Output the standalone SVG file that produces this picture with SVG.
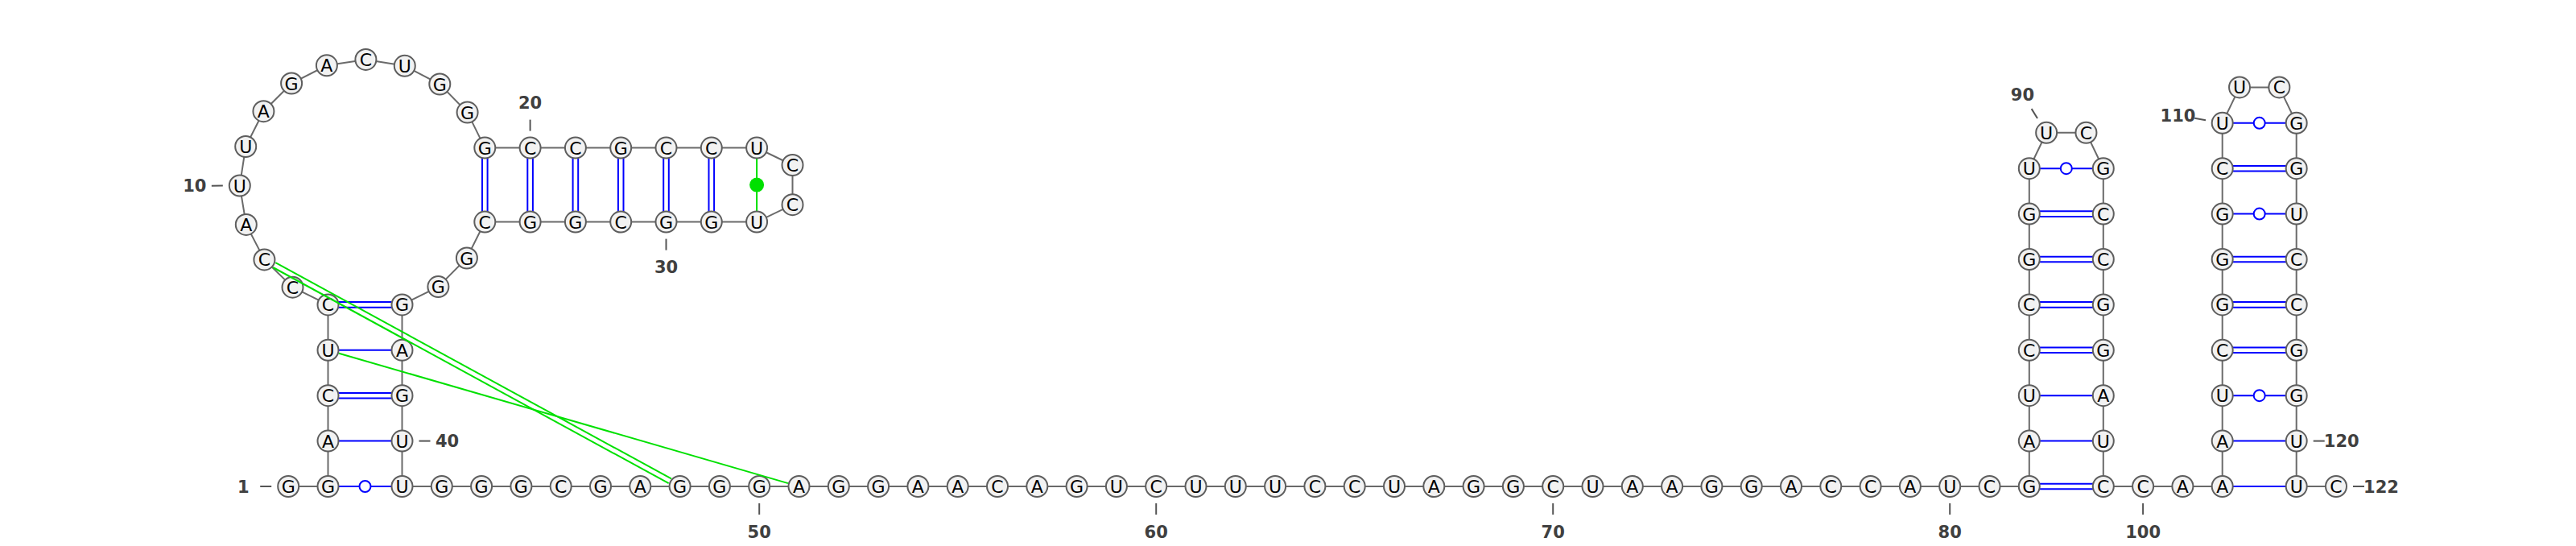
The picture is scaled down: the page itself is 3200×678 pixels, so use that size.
<svg xmlns="http://www.w3.org/2000/svg" width="3200" height="678" viewBox="0 0 3200 678">
<style>
.bb{fill:none;stroke:#6a6a6a;stroke-width:2}
.bp{stroke:#0000ff;stroke-width:2;fill:none}
.wb{fill:#fff;stroke:#0000ff;stroke-width:2}
.tp{stroke:#00e000;stroke-width:2;fill:none}
.nt circle{fill:#f2f2f2;stroke:#5e5e5e;stroke-width:2}
.nt text{font-family:"DejaVu Sans",sans-serif;font-size:22px;text-anchor:middle;fill:#000}
.tk{stroke:#555;stroke-width:2}
.lb{font-family:"DejaVu Sans",sans-serif;font-size:21px;font-weight:bold;text-anchor:middle;fill:#404040}
</style>
<rect width="3200" height="678" fill="#fff"/>
<g id="connectors">
<polyline class="bb" points="358.2,604 407.5,604 407.5,547.6 407.5,491.2 407.5,434.8 407.5,378.4 363.5,356.7 328.4,322.4 305.8,278.9 297.8,230.5 305.2,182 327.4,138.2 362.1,103.5 405.9,81.3 454.4,73.9 502.8,81.8 546.3,104.5 580.6,139.6 602.3,183.6 658.6,183.6 714.9,183.6 771.2,183.6 827.5,183.6 883.8,183.6 940.1,183.6 984.5,205 984.5,254.2 940.1,275.6 883.8,275.6 827.5,275.6 771.2,275.6 714.9,275.6 658.6,275.6 602.3,275.6 579.9,320.5 544.4,356.1 499.5,378.4 499.5,434.8 499.5,491.2 499.5,547.6 499.5,604 2520.8,604 2520.8,209.2 2542.15,164.8 2591.45,164.8 2612.8,209.2 2612.8,604 2760.7,604 2760.7,152.8 2782.05,108.4 2831.35,108.4 2852.7,152.8 2852.7,604 2902,604"/>
<!-- left stem -->
<line class="bp" x1="407.5" y1="604" x2="499.5" y2="604"/>
<line class="bp" x1="407.5" y1="547.6" x2="499.5" y2="547.6"/>
<line class="bp" x1="407.5" y1="487.9" x2="499.5" y2="487.9"/><line class="bp" x1="407.5" y1="494.5" x2="499.5" y2="494.5"/>
<line class="bp" x1="407.5" y1="434.8" x2="499.5" y2="434.8"/>
<line class="bp" x1="407.5" y1="375.1" x2="499.5" y2="375.1"/><line class="bp" x1="407.5" y1="381.7" x2="499.5" y2="381.7"/>
<!-- hairpin -->
<line class="bp" x1="599" y1="183.6" x2="599" y2="275.6"/><line class="bp" x1="605.6" y1="183.6" x2="605.6" y2="275.6"/>
<line class="bp" x1="655.3" y1="183.6" x2="655.3" y2="275.6"/><line class="bp" x1="661.9" y1="183.6" x2="661.9" y2="275.6"/>
<line class="bp" x1="711.6" y1="183.6" x2="711.6" y2="275.6"/><line class="bp" x1="718.2" y1="183.6" x2="718.2" y2="275.6"/>
<line class="bp" x1="767.9" y1="183.6" x2="767.9" y2="275.6"/><line class="bp" x1="774.5" y1="183.6" x2="774.5" y2="275.6"/>
<line class="bp" x1="824.2" y1="183.6" x2="824.2" y2="275.6"/><line class="bp" x1="830.8" y1="183.6" x2="830.8" y2="275.6"/>
<line class="bp" x1="880.5" y1="183.6" x2="880.5" y2="275.6"/><line class="bp" x1="887.1" y1="183.6" x2="887.1" y2="275.6"/>
<line class="tp" x1="940.1" y1="183.6" x2="940.1" y2="275.6"/>
<!-- stem 1 -->
<line class="bp" x1="2520.8" y1="600.7" x2="2612.8" y2="600.7"/><line class="bp" x1="2520.8" y1="607.3" x2="2612.8" y2="607.3"/>
<line class="bp" x1="2520.8" y1="547.6" x2="2612.8" y2="547.6"/>
<line class="bp" x1="2520.8" y1="491.2" x2="2612.8" y2="491.2"/>
<line class="bp" x1="2520.8" y1="431.5" x2="2612.8" y2="431.5"/><line class="bp" x1="2520.8" y1="438.1" x2="2612.8" y2="438.1"/>
<line class="bp" x1="2520.8" y1="375.1" x2="2612.8" y2="375.1"/><line class="bp" x1="2520.8" y1="381.7" x2="2612.8" y2="381.7"/>
<line class="bp" x1="2520.8" y1="318.7" x2="2612.8" y2="318.7"/><line class="bp" x1="2520.8" y1="325.3" x2="2612.8" y2="325.3"/>
<line class="bp" x1="2520.8" y1="262.3" x2="2612.8" y2="262.3"/><line class="bp" x1="2520.8" y1="268.9" x2="2612.8" y2="268.9"/>
<line class="bp" x1="2520.8" y1="209.2" x2="2612.8" y2="209.2"/>
<!-- stem 2 -->
<line class="bp" x1="2760.7" y1="604" x2="2852.7" y2="604"/>
<line class="bp" x1="2760.7" y1="547.6" x2="2852.7" y2="547.6"/>
<line class="bp" x1="2760.7" y1="491.2" x2="2852.7" y2="491.2"/>
<line class="bp" x1="2760.7" y1="431.5" x2="2852.7" y2="431.5"/><line class="bp" x1="2760.7" y1="438.1" x2="2852.7" y2="438.1"/>
<line class="bp" x1="2760.7" y1="375.1" x2="2852.7" y2="375.1"/><line class="bp" x1="2760.7" y1="381.7" x2="2852.7" y2="381.7"/>
<line class="bp" x1="2760.7" y1="318.7" x2="2852.7" y2="318.7"/><line class="bp" x1="2760.7" y1="325.3" x2="2852.7" y2="325.3"/>
<line class="bp" x1="2760.7" y1="265.6" x2="2852.7" y2="265.6"/>
<line class="bp" x1="2760.7" y1="205.9" x2="2852.7" y2="205.9"/><line class="bp" x1="2760.7" y1="212.5" x2="2852.7" y2="212.5"/>
<line class="bp" x1="2760.7" y1="152.8" x2="2852.7" y2="152.8"/>
<!-- wobble markers -->
<circle class="wb" cx="453.5" cy="604" r="7"/>
<circle class="wb" cx="2566.8" cy="209.2" r="7"/>
<circle class="wb" cx="2806.7" cy="491.2" r="7"/>
<circle class="wb" cx="2806.7" cy="265.6" r="7"/>
<circle class="wb" cx="2806.7" cy="152.8" r="7"/>
<circle cx="940.1" cy="229.6" r="9" fill="#00e000"/>
</g>
<g id="nodes">
<g id="n1" class="nt"><circle cx="358.2" cy="604" r="13"/><text x="358.2" y="612">G</text></g>
<g id="n2" class="nt"><circle cx="407.5" cy="604" r="13"/><text x="407.5" y="612">G</text></g>
<g id="n3" class="nt"><circle cx="407.5" cy="547.6" r="13"/><text x="407.5" y="555.6">A</text></g>
<g id="n4" class="nt"><circle cx="407.5" cy="491.2" r="13"/><text x="407.5" y="499.2">C</text></g>
<g id="n5" class="nt"><circle cx="407.5" cy="434.8" r="13"/><text x="407.5" y="442.8">U</text></g>
<g id="n6" class="nt"><circle cx="407.5" cy="378.4" r="13"/><text x="407.5" y="386.4">C</text></g>
<g id="n7" class="nt"><circle cx="363.5" cy="356.7" r="13"/><text x="363.5" y="364.7">C</text></g>
<g id="n8" class="nt"><circle cx="328.4" cy="322.4" r="13"/><text x="328.4" y="330.4">C</text></g>
<g id="n9" class="nt"><circle cx="305.8" cy="278.9" r="13"/><text x="305.8" y="286.9">A</text></g>
<g id="n10" class="nt"><circle cx="297.8" cy="230.5" r="13"/><text x="297.8" y="238.5">U</text></g>
<g id="n11" class="nt"><circle cx="305.2" cy="182" r="13"/><text x="305.2" y="190">U</text></g>
<g id="n12" class="nt"><circle cx="327.4" cy="138.2" r="13"/><text x="327.4" y="146.2">A</text></g>
<g id="n13" class="nt"><circle cx="362.1" cy="103.5" r="13"/><text x="362.1" y="111.5">G</text></g>
<g id="n14" class="nt"><circle cx="405.9" cy="81.3" r="13"/><text x="405.9" y="89.3">A</text></g>
<g id="n15" class="nt"><circle cx="454.4" cy="73.9" r="13"/><text x="454.4" y="81.9">C</text></g>
<g id="n16" class="nt"><circle cx="502.8" cy="81.8" r="13"/><text x="502.8" y="89.8">U</text></g>
<g id="n17" class="nt"><circle cx="546.3" cy="104.5" r="13"/><text x="546.3" y="112.5">G</text></g>
<g id="n18" class="nt"><circle cx="580.6" cy="139.6" r="13"/><text x="580.6" y="147.6">G</text></g>
<g id="n19" class="nt"><circle cx="602.3" cy="183.6" r="13"/><text x="602.3" y="191.6">G</text></g>
<g id="n20" class="nt"><circle cx="658.6" cy="183.6" r="13"/><text x="658.6" y="191.6">C</text></g>
<g id="n21" class="nt"><circle cx="714.9" cy="183.6" r="13"/><text x="714.9" y="191.6">C</text></g>
<g id="n22" class="nt"><circle cx="771.2" cy="183.6" r="13"/><text x="771.2" y="191.6">G</text></g>
<g id="n23" class="nt"><circle cx="827.5" cy="183.6" r="13"/><text x="827.5" y="191.6">C</text></g>
<g id="n24" class="nt"><circle cx="883.8" cy="183.6" r="13"/><text x="883.8" y="191.6">C</text></g>
<g id="n25" class="nt"><circle cx="940.1" cy="183.6" r="13"/><text x="940.1" y="191.6">U</text></g>
<g id="n26" class="nt"><circle cx="984.5" cy="205" r="13"/><text x="984.5" y="213">C</text></g>
<g id="n27" class="nt"><circle cx="984.5" cy="254.2" r="13"/><text x="984.5" y="262.2">C</text></g>
<g id="n28" class="nt"><circle cx="940.1" cy="275.6" r="13"/><text x="940.1" y="283.6">U</text></g>
<g id="n29" class="nt"><circle cx="883.8" cy="275.6" r="13"/><text x="883.8" y="283.6">G</text></g>
<g id="n30" class="nt"><circle cx="827.5" cy="275.6" r="13"/><text x="827.5" y="283.6">G</text></g>
<g id="n31" class="nt"><circle cx="771.2" cy="275.6" r="13"/><text x="771.2" y="283.6">C</text></g>
<g id="n32" class="nt"><circle cx="714.9" cy="275.6" r="13"/><text x="714.9" y="283.6">G</text></g>
<g id="n33" class="nt"><circle cx="658.6" cy="275.6" r="13"/><text x="658.6" y="283.6">G</text></g>
<g id="n34" class="nt"><circle cx="602.3" cy="275.6" r="13"/><text x="602.3" y="283.6">C</text></g>
<g id="n35" class="nt"><circle cx="579.9" cy="320.5" r="13"/><text x="579.9" y="328.5">G</text></g>
<g id="n36" class="nt"><circle cx="544.4" cy="356.1" r="13"/><text x="544.4" y="364.1">G</text></g>
<g id="n37" class="nt"><circle cx="499.5" cy="378.4" r="13"/><text x="499.5" y="386.4">G</text></g>
<g id="n38" class="nt"><circle cx="499.5" cy="434.8" r="13"/><text x="499.5" y="442.8">A</text></g>
<g id="n39" class="nt"><circle cx="499.5" cy="491.2" r="13"/><text x="499.5" y="499.2">G</text></g>
<g id="n40" class="nt"><circle cx="499.5" cy="547.6" r="13"/><text x="499.5" y="555.6">U</text></g>
<g id="n41" class="nt"><circle cx="499.5" cy="604" r="13"/><text x="499.5" y="612">U</text></g>
<g id="n42" class="nt"><circle cx="548.8" cy="604" r="13"/><text x="548.8" y="612">G</text></g>
<g id="n43" class="nt"><circle cx="598.1" cy="604" r="13"/><text x="598.1" y="612">G</text></g>
<g id="n44" class="nt"><circle cx="647.4" cy="604" r="13"/><text x="647.4" y="612">G</text></g>
<g id="n45" class="nt"><circle cx="696.7" cy="604" r="13"/><text x="696.7" y="612">C</text></g>
<g id="n46" class="nt"><circle cx="746" cy="604" r="13"/><text x="746" y="612">G</text></g>
<g id="n47" class="nt"><circle cx="795.3" cy="604" r="13"/><text x="795.3" y="612">A</text></g>
<g id="n48" class="nt"><circle cx="844.6" cy="604" r="13"/><text x="844.6" y="612">G</text></g>
<g id="n49" class="nt"><circle cx="893.9" cy="604" r="13"/><text x="893.9" y="612">G</text></g>
<g id="n50" class="nt"><circle cx="943.2" cy="604" r="13"/><text x="943.2" y="612">G</text></g>
<g id="n51" class="nt"><circle cx="992.5" cy="604" r="13"/><text x="992.5" y="612">A</text></g>
<g id="n52" class="nt"><circle cx="1041.8" cy="604" r="13"/><text x="1041.8" y="612">G</text></g>
<g id="n53" class="nt"><circle cx="1091.1" cy="604" r="13"/><text x="1091.1" y="612">G</text></g>
<g id="n54" class="nt"><circle cx="1140.4" cy="604" r="13"/><text x="1140.4" y="612">A</text></g>
<g id="n55" class="nt"><circle cx="1189.7" cy="604" r="13"/><text x="1189.7" y="612">A</text></g>
<g id="n56" class="nt"><circle cx="1239" cy="604" r="13"/><text x="1239" y="612">C</text></g>
<g id="n57" class="nt"><circle cx="1288.3" cy="604" r="13"/><text x="1288.3" y="612">A</text></g>
<g id="n58" class="nt"><circle cx="1337.6" cy="604" r="13"/><text x="1337.6" y="612">G</text></g>
<g id="n59" class="nt"><circle cx="1386.9" cy="604" r="13"/><text x="1386.9" y="612">U</text></g>
<g id="n60" class="nt"><circle cx="1436.2" cy="604" r="13"/><text x="1436.2" y="612">C</text></g>
<g id="n61" class="nt"><circle cx="1485.5" cy="604" r="13"/><text x="1485.5" y="612">U</text></g>
<g id="n62" class="nt"><circle cx="1534.8" cy="604" r="13"/><text x="1534.8" y="612">U</text></g>
<g id="n63" class="nt"><circle cx="1584.1" cy="604" r="13"/><text x="1584.1" y="612">U</text></g>
<g id="n64" class="nt"><circle cx="1633.4" cy="604" r="13"/><text x="1633.4" y="612">C</text></g>
<g id="n65" class="nt"><circle cx="1682.7" cy="604" r="13"/><text x="1682.7" y="612">C</text></g>
<g id="n66" class="nt"><circle cx="1732" cy="604" r="13"/><text x="1732" y="612">U</text></g>
<g id="n67" class="nt"><circle cx="1781.3" cy="604" r="13"/><text x="1781.3" y="612">A</text></g>
<g id="n68" class="nt"><circle cx="1830.6" cy="604" r="13"/><text x="1830.6" y="612">G</text></g>
<g id="n69" class="nt"><circle cx="1879.9" cy="604" r="13"/><text x="1879.9" y="612">G</text></g>
<g id="n70" class="nt"><circle cx="1929.2" cy="604" r="13"/><text x="1929.2" y="612">C</text></g>
<g id="n71" class="nt"><circle cx="1978.5" cy="604" r="13"/><text x="1978.5" y="612">U</text></g>
<g id="n72" class="nt"><circle cx="2027.8" cy="604" r="13"/><text x="2027.8" y="612">A</text></g>
<g id="n73" class="nt"><circle cx="2077.1" cy="604" r="13"/><text x="2077.1" y="612">A</text></g>
<g id="n74" class="nt"><circle cx="2126.4" cy="604" r="13"/><text x="2126.4" y="612">G</text></g>
<g id="n75" class="nt"><circle cx="2175.7" cy="604" r="13"/><text x="2175.7" y="612">G</text></g>
<g id="n76" class="nt"><circle cx="2225" cy="604" r="13"/><text x="2225" y="612">A</text></g>
<g id="n77" class="nt"><circle cx="2274.3" cy="604" r="13"/><text x="2274.3" y="612">C</text></g>
<g id="n78" class="nt"><circle cx="2323.6" cy="604" r="13"/><text x="2323.6" y="612">C</text></g>
<g id="n79" class="nt"><circle cx="2372.9" cy="604" r="13"/><text x="2372.9" y="612">A</text></g>
<g id="n80" class="nt"><circle cx="2422.2" cy="604" r="13"/><text x="2422.2" y="612">U</text></g>
<g id="n81" class="nt"><circle cx="2471.5" cy="604" r="13"/><text x="2471.5" y="612">C</text></g>
<g id="n82" class="nt"><circle cx="2520.8" cy="604" r="13"/><text x="2520.8" y="612">G</text></g>
<g id="n83" class="nt"><circle cx="2520.8" cy="547.6" r="13"/><text x="2520.8" y="555.6">A</text></g>
<g id="n84" class="nt"><circle cx="2520.8" cy="491.2" r="13"/><text x="2520.8" y="499.2">U</text></g>
<g id="n85" class="nt"><circle cx="2520.8" cy="434.8" r="13"/><text x="2520.8" y="442.8">C</text></g>
<g id="n86" class="nt"><circle cx="2520.8" cy="378.4" r="13"/><text x="2520.8" y="386.4">C</text></g>
<g id="n87" class="nt"><circle cx="2520.8" cy="322" r="13"/><text x="2520.8" y="330">G</text></g>
<g id="n88" class="nt"><circle cx="2520.8" cy="265.6" r="13"/><text x="2520.8" y="273.6">G</text></g>
<g id="n89" class="nt"><circle cx="2520.8" cy="209.2" r="13"/><text x="2520.8" y="217.2">U</text></g>
<g id="n90" class="nt"><circle cx="2542.15" cy="164.8" r="13"/><text x="2542.15" y="172.8">U</text></g>
<g id="n91" class="nt"><circle cx="2591.45" cy="164.8" r="13"/><text x="2591.45" y="172.8">C</text></g>
<g id="n92" class="nt"><circle cx="2612.8" cy="209.2" r="13"/><text x="2612.8" y="217.2">G</text></g>
<g id="n93" class="nt"><circle cx="2612.8" cy="265.6" r="13"/><text x="2612.8" y="273.6">C</text></g>
<g id="n94" class="nt"><circle cx="2612.8" cy="322" r="13"/><text x="2612.8" y="330">C</text></g>
<g id="n95" class="nt"><circle cx="2612.8" cy="378.4" r="13"/><text x="2612.8" y="386.4">G</text></g>
<g id="n96" class="nt"><circle cx="2612.8" cy="434.8" r="13"/><text x="2612.8" y="442.8">G</text></g>
<g id="n97" class="nt"><circle cx="2612.8" cy="491.2" r="13"/><text x="2612.8" y="499.2">A</text></g>
<g id="n98" class="nt"><circle cx="2612.8" cy="547.6" r="13"/><text x="2612.8" y="555.6">U</text></g>
<g id="n99" class="nt"><circle cx="2612.8" cy="604" r="13"/><text x="2612.8" y="612">C</text></g>
<g id="n100" class="nt"><circle cx="2662.1" cy="604" r="13"/><text x="2662.1" y="612">C</text></g>
<g id="n101" class="nt"><circle cx="2711.4" cy="604" r="13"/><text x="2711.4" y="612">A</text></g>
<g id="n102" class="nt"><circle cx="2760.7" cy="604" r="13"/><text x="2760.7" y="612">A</text></g>
<g id="n103" class="nt"><circle cx="2760.7" cy="547.6" r="13"/><text x="2760.7" y="555.6">A</text></g>
<g id="n104" class="nt"><circle cx="2760.7" cy="491.2" r="13"/><text x="2760.7" y="499.2">U</text></g>
<g id="n105" class="nt"><circle cx="2760.7" cy="434.8" r="13"/><text x="2760.7" y="442.8">C</text></g>
<g id="n106" class="nt"><circle cx="2760.7" cy="378.4" r="13"/><text x="2760.7" y="386.4">G</text></g>
<g id="n107" class="nt"><circle cx="2760.7" cy="322" r="13"/><text x="2760.7" y="330">G</text></g>
<g id="n108" class="nt"><circle cx="2760.7" cy="265.6" r="13"/><text x="2760.7" y="273.6">G</text></g>
<g id="n109" class="nt"><circle cx="2760.7" cy="209.2" r="13"/><text x="2760.7" y="217.2">C</text></g>
<g id="n110" class="nt"><circle cx="2760.7" cy="152.8" r="13"/><text x="2760.7" y="160.8">U</text></g>
<g id="n111" class="nt"><circle cx="2782.05" cy="108.4" r="13"/><text x="2782.05" y="116.4">U</text></g>
<g id="n112" class="nt"><circle cx="2831.35" cy="108.4" r="13"/><text x="2831.35" y="116.4">C</text></g>
<g id="n113" class="nt"><circle cx="2852.7" cy="152.8" r="13"/><text x="2852.7" y="160.8">G</text></g>
<g id="n114" class="nt"><circle cx="2852.7" cy="209.2" r="13"/><text x="2852.7" y="217.2">G</text></g>
<g id="n115" class="nt"><circle cx="2852.7" cy="265.6" r="13"/><text x="2852.7" y="273.6">U</text></g>
<g id="n116" class="nt"><circle cx="2852.7" cy="322" r="13"/><text x="2852.7" y="330">C</text></g>
<g id="n117" class="nt"><circle cx="2852.7" cy="378.4" r="13"/><text x="2852.7" y="386.4">C</text></g>
<g id="n118" class="nt"><circle cx="2852.7" cy="434.8" r="13"/><text x="2852.7" y="442.8">G</text></g>
<g id="n119" class="nt"><circle cx="2852.7" cy="491.2" r="13"/><text x="2852.7" y="499.2">G</text></g>
<g id="n120" class="nt"><circle cx="2852.7" cy="547.6" r="13"/><text x="2852.7" y="555.6">U</text></g>
<g id="n121" class="nt"><circle cx="2852.7" cy="604" r="13"/><text x="2852.7" y="612">U</text></g>
<g id="n122" class="nt"><circle cx="2902" cy="604" r="13"/><text x="2902" y="612">C</text></g>
</g>
<g id="tertiary">
<line class="tp" x1="339.1" y1="332" x2="830.7" y2="600.2"/>
<line class="tp" x1="342.3" y1="326.2" x2="833.9" y2="594.4"/>
<line class="tp" x1="421" y1="438.7" x2="979" y2="600.1"/>
</g>
<g id="labels">
<line class="tk" x1="337.2" y1="604" x2="323.2" y2="604"/><text class="lb" x="302.2" y="611.6">1</text>
<line class="tk" x1="276.8" y1="230.6" x2="262.8" y2="230.7"/><text class="lb" x="241.8" y="238.4">10</text>
<line class="tk" x1="658.6" y1="162.6" x2="658.6" y2="148.6"/><text class="lb" x="658.6" y="135.2">20</text>
<line class="tk" x1="827.5" y1="296.6" x2="827.5" y2="310.6"/><text class="lb" x="827.5" y="339.2">30</text>
<line class="tk" x1="520.5" y1="547.6" x2="534.5" y2="547.6"/><text class="lb" x="555.5" y="555.2">40</text>
<line class="tk" x1="943.2" y1="625" x2="943.2" y2="639"/><text class="lb" x="943.2" y="667.6">50</text>
<line class="tk" x1="1436.2" y1="625" x2="1436.2" y2="639"/><text class="lb" x="1436.2" y="667.6">60</text>
<line class="tk" x1="1929.2" y1="625" x2="1929.2" y2="639"/><text class="lb" x="1929.2" y="667.6">70</text>
<line class="tk" x1="2422.2" y1="625" x2="2422.2" y2="639"/><text class="lb" x="2422.2" y="667.6">80</text>
<line class="tk" x1="2531" y1="147" x2="2523.6" y2="135.1"/><text class="lb" x="2512.4" y="124.9">90</text>
<line class="tk" x1="2662.1" y1="625" x2="2662.1" y2="639"/><text class="lb" x="2662.1" y="667.6">100</text>
<line class="tk" x1="2740" y1="149.2" x2="2726.2" y2="146.8"/><text class="lb" x="2705.5" y="150.8">110</text>
<line class="tk" x1="2873.7" y1="547.6" x2="2887.7" y2="547.6"/><text class="lb" x="2908.7" y="555.2">120</text>
<line class="tk" x1="2923" y1="604" x2="2937" y2="604"/><text class="lb" x="2958" y="611.6">122</text>
</g>
</svg>
